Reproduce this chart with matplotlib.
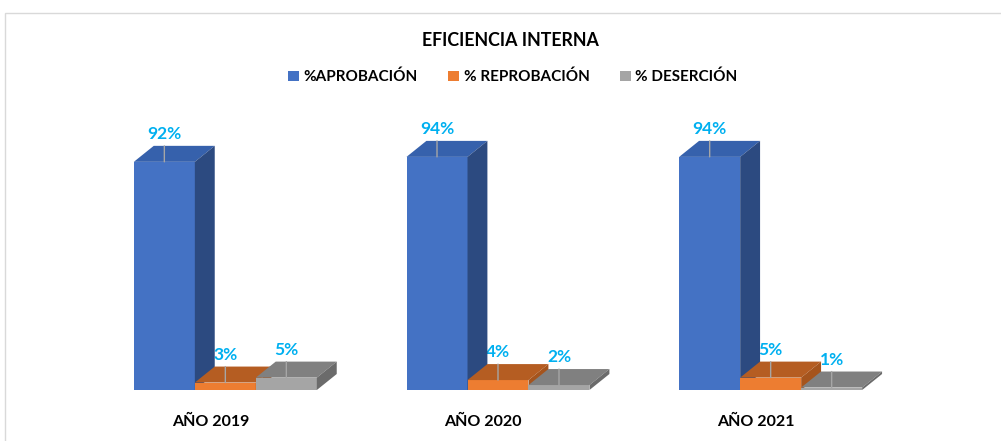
import numpy as np
import matplotlib.pyplot as plt
from matplotlib.patches import Polygon, Rectangle, Patch

plt.rcParams['font.family'] = ['Lato', 'DejaVu Sans']

# Datos de eficiencia interna
anios = ['AÑO 2019', 'AÑO 2020', 'AÑO 2021']
series = ['%APROBACIÓN', '% REPROBACIÓN', '% DESERCIÓN']
aprobacion = [92, 94, 94]
reprobacion = [3, 4, 5]
desercion = [5, 2, 1]

# colores: frente, tapa, lado
colores = [('#4472C4', '#3661AC', '#2C4A80'),
           ('#ED7D31', '#B55D22', '#A5541D'),
           ('#A5A5A5', '#808080', '#6B6B6B')]

fig = plt.figure(figsize=(10.01, 4.41), dpi=100)
ax = fig.add_axes([89 / 1001, 51 / 441, 818 / 1001, 248 / 441])
ax.set_xlim(-0.5, 2.5)
ax.set_ylim(0, 100)

ancho = 0.2237
dx, dy = 0.073, 6.45  # profundidad 3D en unidades de datos

x = np.arange(len(anios))
for i, valores in enumerate([aprobacion, reprobacion, desercion]):
    frente, tapa, lado = colores[i]
    z = 3 + i
    barras = ax.bar(x + (i - 1) * ancho, valores, width=ancho, color=frente,
                    linewidth=0, zorder=z)
    for b in barras:
        x0 = b.get_x()
        x1 = x0 + b.get_width()
        v = b.get_height()
        ax.add_patch(Polygon([(x0, v), (x0 + dx, v + dy), (x1 + dx, v + dy), (x1, v)],
                             closed=True, facecolor=tapa, linewidth=0, zorder=z,
                             clip_on=False))
        ax.add_patch(Polygon([(x1, 0), (x1, v), (x1 + dx, v + dy), (x1 + dx, dy)],
                             closed=True, facecolor=lado, linewidth=0, zorder=z,
                             clip_on=False))
        xc = x0 + b.get_width() / 2
        ax.annotate(f'{v}%', xy=(xc, v), xytext=(0, 20), textcoords='offset points',
                    ha='center', va='center', color='#00B0F0', fontweight='bold',
                    fontsize=12.5, zorder=2, annotation_clip=False)
        ax.annotate('', xy=(xc, v), xytext=(0, 11.5), textcoords='offset points',
                    arrowprops=dict(arrowstyle='-', color='#A6A6A6', lw=1,
                                    shrinkA=0, shrinkB=0),
                    zorder=10, annotation_clip=False)

ax.set_xticks(x - 0.055)
ax.set_xticklabels(anios, fontweight='bold', fontsize=11.5)
ax.tick_params(axis='x', length=0, pad=18)
ax.set_yticks([])
for s in ax.spines.values():
    s.set_visible(False)

fig.text(510 / 1001, 1 - 40 / 441, 'EFICIENCIA INTERNA', ha='center', va='center',
         fontweight='bold', fontsize=12.8, color='black')

handles = [Patch(facecolor=c[0]) for c in colores]
fig.legend(handles, series, loc='center', bbox_to_anchor=(513 / 1001, 1 - 77 / 441),
           ncol=3, frameon=False, handlelength=0.7, handleheight=0.7,
           handletextpad=0.3, columnspacing=2.0,
           prop={'weight': 'bold', 'size': 11})

# marco del area del grafico
fig.patches.append(Rectangle((5 / 1001, -0.1), 1.2, 1.1 - 13 / 441, fill=False,
                             edgecolor='#D9D9D9', linewidth=1,
                             transform=fig.transFigure, figure=fig))

fig.savefig('out.png', dpi=100)
